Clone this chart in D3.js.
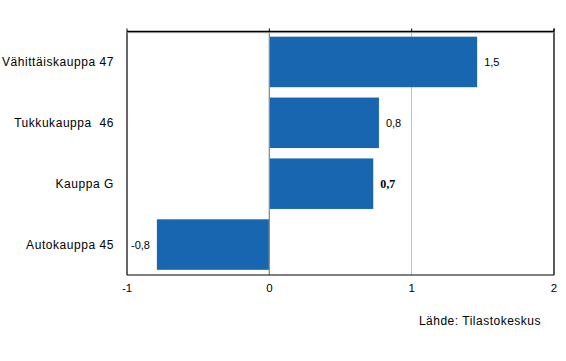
<!DOCTYPE html>
<html><head><meta charset="utf-8">
<script src="https://cdn.jsdelivr.net/npm/d3@7"></script>
<style>body{margin:0;background:#fff}svg{display:block}text{font-family:"Liberation Sans",Arial,sans-serif}</style>
</head><body>
<svg id="c" width="566" height="361"></svg>
<script>
const categories = ["Vähittäiskauppa 47", "Tukkukauppa  46", "Kauppa G", "Autokauppa 45"];
const values = [1.46, 0.77, 0.73, -0.79];
const valueLabels = ["1,5", "0,8", "0,7", "-0,8"];
const xTicks = [-1, 0, 1, 2];
const source = "Lähde: Tilastokeskus";

const svg = d3.select("#c");
const L = 127, R = 554, T = 31.5, B = 275;
const x = d3.scaleLinear().domain([-1, 2]).range([L, R]);
const y = d3.scaleBand().domain(categories).range([T, B]).paddingInner(0.17).paddingOuter(0.085);
const blue = "#1866b0";

// gridlines
svg.selectAll("line.grid").data([1]).join("line")
  .attr("x1", d => x(d)).attr("x2", d => x(d)).attr("y1", T).attr("y2", B)
  .attr("stroke", "#c0c0c0").attr("stroke-width", 1).attr("shape-rendering", "crispEdges");

// bars
svg.selectAll("rect.bar").data(values).join("rect")
  .attr("x", d => x(Math.min(0, d))).attr("width", d => Math.abs(x(d) - x(0)))
  .attr("y", (d, i) => y(categories[i])).attr("height", y.bandwidth())
  .attr("fill", blue);

// zero line
svg.append("line").attr("x1", x(0)).attr("x2", x(0)).attr("y1", T).attr("y2", B)
  .attr("stroke", "#8c8c8c").attr("stroke-width", 1.3);

// frame
svg.append("line").attr("x1", L).attr("x2", R).attr("y1", B).attr("y2", B).attr("stroke", "#000").attr("stroke-width", 1.2);
svg.append("line").attr("x1", L).attr("x2", L).attr("y1", T).attr("y2", B).attr("stroke", "#000").attr("stroke-width", 1.2);
svg.append("line").attr("x1", R).attr("x2", R).attr("y1", T - 3).attr("y2", B).attr("stroke", "#000").attr("stroke-width", 1.3);
svg.append("line").attr("x1", L).attr("x2", R).attr("y1", T + 1.2).attr("y2", T + 1.2).attr("stroke", "#b0b0b0").attr("stroke-width", 1);
svg.append("line").attr("x1", L).attr("x2", R).attr("y1", T).attr("y2", T).attr("stroke", "#000").attr("stroke-width", 1.5);

// top ticks
svg.selectAll("line.tt").data(xTicks).join("line")
  .attr("x1", d => x(d)).attr("x2", d => x(d)).attr("y1", T - 3).attr("y2", T)
  .attr("stroke", "#000").attr("stroke-width", 1);

// x tick labels
svg.selectAll("text.xt").data(xTicks).join("text")
  .attr("x", d => x(d)).attr("y", 292).attr("text-anchor", "middle")
  .attr("font-size", 11.5).attr("fill", "#000").text(d => d);

// category labels
svg.selectAll("text.cat").data(categories).join("text")
  .attr("x", 114).attr("y", d => y(d) + y.bandwidth() / 2 + 4.5).attr("text-anchor", "end")
  .attr("font-size", 12).attr("fill", "#000").attr("letter-spacing", 0.55)
  .style("white-space", "pre").text(d => d);

// value labels
svg.selectAll("text.val").data(values).join("text")
  .attr("x", (d, i) => d >= 0 ? x(d) + 7 : x(-1) + 4)
  .attr("y", (d, i) => y(categories[i]) + y.bandwidth() / 2 + 4)
  .attr("text-anchor", "start")
  .attr("font-size", (d, i) => i === 2 ? 12 : 11)
  .style("font-family", (d, i) => i === 2 ? "'Liberation Serif','Times New Roman',serif" : null)
  .attr("font-weight", (d, i) => i === 2 ? "bold" : "normal")
  .attr("fill", "#000").text((d, i) => valueLabels[i]);

// source
svg.append("text").attr("x", 541).attr("y", 325).attr("text-anchor", "end")
  .attr("font-size", 12).attr("letter-spacing", 0.5).attr("fill", "#000").text(source);
</script>
</body></html>
